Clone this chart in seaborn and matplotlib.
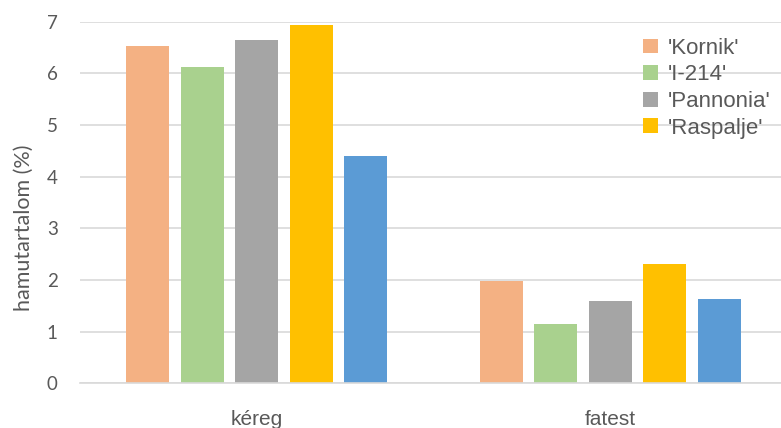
import matplotlib
matplotlib.use('Agg')
import matplotlib.pyplot as plt
import pandas as pd
import seaborn as sns

# data
categories = ['kéreg', 'fatest']
clones = ["'Kornik'", "'I-214'", "'Pannonia'", "'Raspalje'", "series5"]
kereg_values = [6.52, 6.12, 6.65, 6.93, 4.40]
fatest_values = [1.98, 1.14, 1.60, 2.31, 1.63]
colors = ['#F4B183', '#A9D18E', '#A5A5A5', '#FFC000', '#5B9BD5']

df = pd.DataFrame({
    'resz': [categories[0]] * len(clones) + [categories[1]] * len(clones),
    'klon': clones * 2,
    'ertek': kereg_values + fatest_values,
})

sns.set_style('white')
plt.rcParams['font.family'] = ['Liberation Sans', 'DejaVu Sans']

fig = plt.figure(figsize=(7.81, 4.28), dpi=100)
ax = fig.add_axes([80 / 781, 44.7 / 428, 701 / 781, 361.8 / 428])

sns.barplot(data=df, x='resz', y='ertek', hue='klon', order=categories,
            hue_order=clones, palette=colors, width=0.77, gap=0.21,
            saturation=1, linewidth=0, ax=ax)

ax.set_xlim(-0.5, 1.483)
ax.set_ylim(0, 7)
ax.set_yticks(range(0, 8))
ax.yaxis.grid(True, color='#D9D9D9', linewidth=1.2)
ax.set_axisbelow(True)
for side in ['top', 'right', 'left']:
    ax.spines[side].set_visible(False)
ax.spines['bottom'].set_color('#D9D9D9')
ax.spines['bottom'].set_linewidth(1.2)
ax.tick_params(axis='both', length=0, colors='#595959')
ax.tick_params(axis='y', pad=16)
ax.tick_params(axis='x', pad=19)
for lab in ax.get_yticklabels():
    lab.set_fontfamily(['Lato', 'DejaVu Sans'])
    lab.set_fontsize(13.5)
for lab in ax.get_xticklabels():
    lab.set_fontsize(15)
ax.set_xlabel('')
ax.set_ylabel('hamutartalom (%)', fontsize=15.5, color='#595959',
              fontfamily=['Lato', 'DejaVu Sans'])
ax.yaxis.set_label_coords(-0.066, 0.43)

handles, labels = ax.get_legend_handles_labels()
ax.legend(handles[:4], labels[:4], loc='upper left', bbox_to_anchor=(0.775, 1.01),
          frameon=False, fontsize=16, labelcolor='#595959', handlelength=0.65,
          handleheight=0.65, handletextpad=0.45, labelspacing=0.25)

fig.savefig('out.png', dpi=100)
